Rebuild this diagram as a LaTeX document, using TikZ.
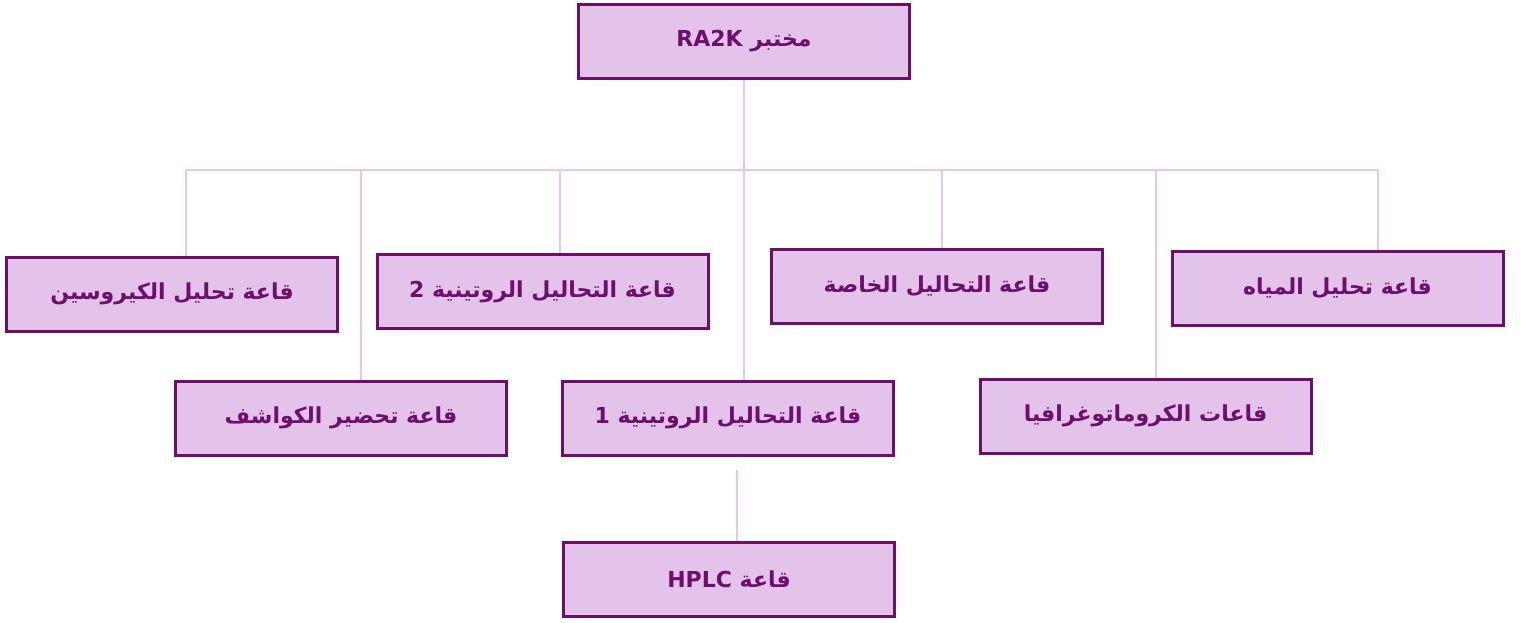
\documentclass[tikz,border=0pt]{standalone}
\usepackage{fontspec}
\newfontfamily\arabicfont[Script=Arabic]{DejaVu Sans}
\setmainfont{DejaVu Sans}
\TeXXeTstate=1
\definecolor{boxfill}{HTML}{E4C3EA}
\definecolor{boxline}{HTML}{6B0F6B}
\definecolor{txt}{HTML}{6E0E6E}
\definecolor{conn}{HTML}{E6C6EE}
\tikzset{
  room/.style={draw=boxline, fill=boxfill, line width=3pt, minimum width=331pt, minimum height=74pt, inner sep=0pt, text=txt, font=\arabicfont\bfseries\fontsize{22}{26}\selectfont},
  link/.style={draw=conn, line width=1.6pt}
}
\begin{document}
\begin{tikzpicture}[x=1pt,y=-1pt]
\useasboundingbox (0,0) rectangle (1525,623);
\node[room] (lab) at (744,41.5) {\beginR مختبر \beginL RA2K\endL\endR};
\node[room] (kero) at (172,294) {\beginR قاعة تحليل الكيروسين\endR};
\node[room] (rout2) at (542.5,291.5) {\beginR قاعة التحاليل الروتينية \beginL 2\endL\endR};
\node[room] (spec) at (937,286.5) {\beginR قاعة التحاليل الخاصة\endR};
\node[room] (water) at (1337.5,288) {\beginR قاعة تحليل المياه\endR};
\node[room] (reag) at (341,418) {\beginR قاعة تحضير الكواشف\endR};
\node[room] (rout1) at (728,418) {\beginR قاعة التحاليل الروتينية \beginL 1\endL\endR};
\node[room] (chrom) at (1145.5,416) {\beginR قاعات الكروماتوغرافيا\endR};
\node[room] (hplc) at (729,579.5) {\beginR قاعة \beginL HPLC\endL\endR};
\coordinate (busL) at (186,170);
\coordinate (busR) at (1378,170);
\coordinate (hstart) at (737,470);
\draw[link] (busL) -- (busR);
\draw[link] (busL) -- (busL |- kero.north);
\draw[link] (361,170) -- (361,0 |- reag.north);
\draw[link] (560,170) -- (560,0 |- rout2.north);
\draw[link] (744,0 |- lab.south) -- (744,0 |- rout1.north);
\draw[link] (942,170) -- (942,0 |- spec.north);
\draw[link] (1156,170) -- (1156,0 |- chrom.north);
\draw[link] (busR) -- (busR |- water.north);
\draw[link] (hstart) -- (hstart |- hplc.north);
\end{tikzpicture}
\end{document}
